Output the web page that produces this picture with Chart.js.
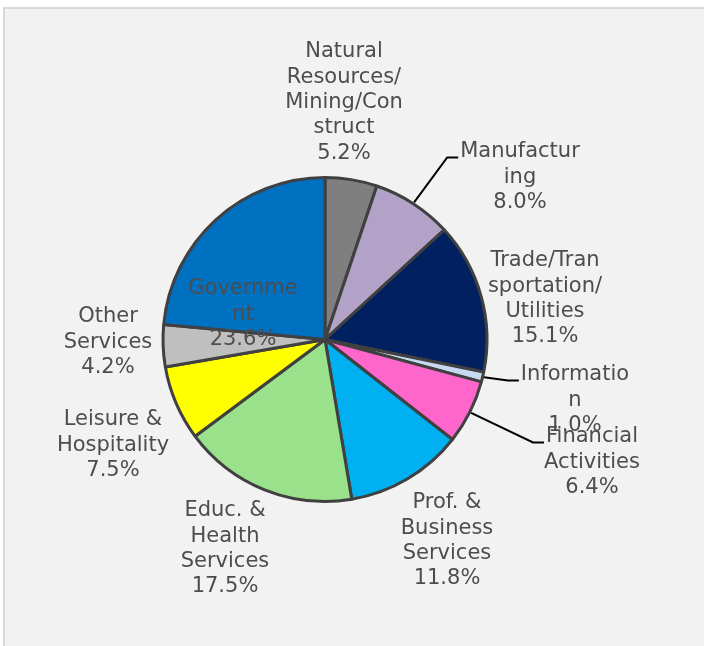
<!DOCTYPE html>
<html>
<head>
<meta charset="utf-8">
<script src="https://cdn.jsdelivr.net/npm/chart.js@4.4.1/dist/chart.umd.min.js"></script>
<style>
    html, body { margin: 0; padding: 0; background: #ffffff; overflow: hidden; width: 704px; height: 646px; }
    #frame {
        position: absolute; left: 3px; top: 7px; right: 0; bottom: 0;
        background: #f2f2f2; border-left: 2px solid #d9d9d9; border-top: 2px solid #d9d9d9;
    }
    #wrap { position: absolute; left: 0; top: 0; width: 704px; height: 646px; }
</style>
</head>
<body>
<div id="frame"></div>
<div id="wrap"><canvas id="pieChart" width="704" height="646"></canvas></div>
<script>
// Employment share by sector (clockwise from 12 o'clock)
const sectors = ["Natural Resources/Mining/Construct", "Manufacturing", "Trade/Transportation/Utilities",
    "Information", "Financial Activities", "Prof. & Business Services", "Educ. & Health Services",
    "Leisure & Hospitality", "Other Services", "Government"];
const shares = [5.2, 8.0, 15.1, 1.0, 6.4, 11.8, 17.5, 7.5, 4.2, 23.6];
const sliceColors = ["#7f7f7f", "#b3a2c7", "#002060", "#c5d9f1", "#ff66cc",
    "#00b0f0", "#99e18b", "#ffff00", "#bfbfbf", "#0070c0"];

// Label text as wrapped in the original
const labelLines = [
    ["Natural", "Resources/", "Mining/Con", "struct"],
    ["Manufactur", "ing"],
    ["Trade/Tran", "sportation/", "Utilities"],
    ["Informatio", "n"],
    ["Financial", "Activities"],
    ["Prof. &", "Business", "Services"],
    ["Educ. &", "Health", "Services"],
    ["Leisure &", "Hospitality"],
    ["Other", "Services"],
    ["Governme", "nt"]
];

// Label placement: block center x / first line y, relative to the pie center (px)
const labelOffsets = [
    [19, -287.5], [195, -187.5], [220, -78.5], [250, 35.5], [267, 97.5],
    [122, 163.5], [-100, 171.5], [-212, 80.5], [-217, -22.5], [-82, -50.5]
];
// Which labels get a leader line
const leaderLines = [false, true, false, true, true, false, false, false, false, false];

const LINE_HEIGHT = 25.3;

const sliceLabels = {
    id: 'sliceLabels',
    afterDatasetsDraw(chart) {
        const ctx = chart.ctx;
        const arcs = chart.getDatasetMeta(0).data;
        ctx.save();
        ctx.font = '21px "DejaVu Sans"';
        ctx.fillStyle = '#4d4d4d';
        ctx.textAlign = 'center';
        ctx.textBaseline = 'middle';

        arcs.forEach((arc, i) => {
            const p = arc.getProps(['x', 'y', 'startAngle', 'endAngle', 'outerRadius'], true);
            const cx = p.x + labelOffsets[i][0];
            const y0 = p.y + labelOffsets[i][1];
            const lines = labelLines[i].concat([shares[i].toFixed(1) + '%']);

            if (leaderLines[i]) {
                const mid = (p.startAngle + p.endAngle) / 2;
                const r = p.outerRadius + 1.5;
                const sx = p.x + Math.cos(mid) * r;
                const sy = p.y + Math.sin(mid) * r;
                const w = ctx.measureText(lines[0]).width;
                const ex = cx - w / 2 - 2;
                const ey = y0 + 5.5;
                ctx.save();
                ctx.strokeStyle = '#000000';
                ctx.lineWidth = 2;
                ctx.beginPath();
                ctx.moveTo(sx, sy);
                ctx.lineTo(ex - 11, ey);
                ctx.lineTo(ex, ey);
                ctx.stroke();
                ctx.restore();
            }

            lines.forEach((txt, k) => {
                ctx.fillText(txt, cx, y0 + k * LINE_HEIGHT);
            });
        });
        ctx.restore();
    }
};

new Chart(document.getElementById('pieChart'), {
    type: 'pie',
    data: {
        labels: sectors,
        datasets: [{
            data: shares,
            backgroundColor: sliceColors,
            borderColor: '#404040',
            borderWidth: 3,
            radius: 162
        }]
    },
    options: {
        responsive: false,
        animation: false,
        layout: { padding: { left: 0, right: 54, top: 33, bottom: 0 } },
        plugins: {
            legend: { display: false },
            tooltip: { enabled: false }
        }
    },
    plugins: [sliceLabels]
});
</script>
</body>
</html>
